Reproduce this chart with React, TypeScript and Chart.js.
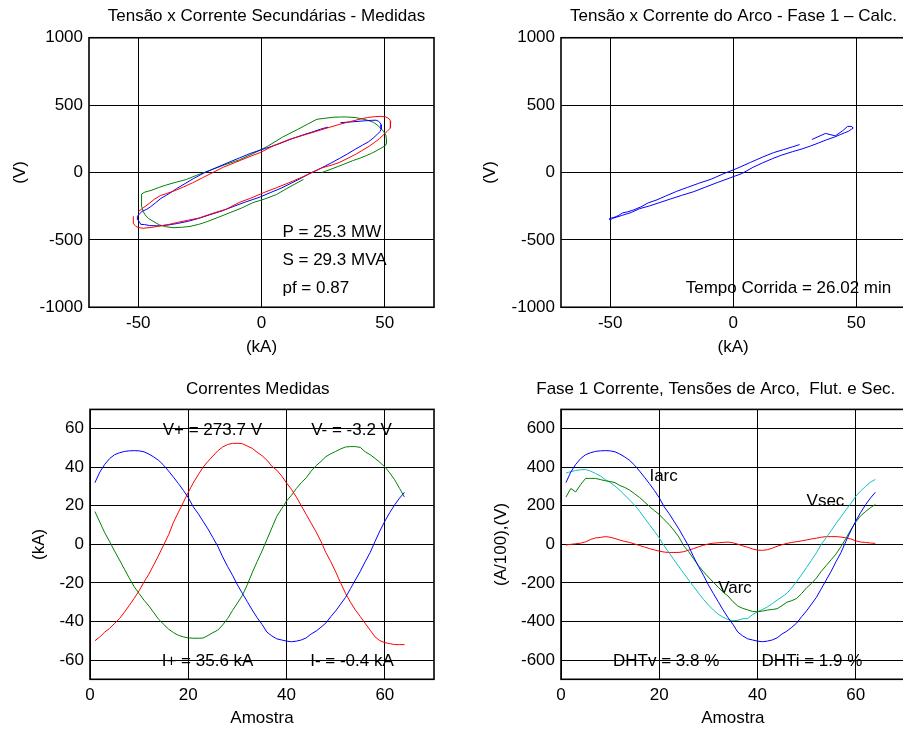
import React, { useEffect, useRef } from "react";
import { Chart, registerables } from "chart.js";

Chart.register(...registerables);

const FONT_FAMILY = '"Liberation Sans", Arial, Helvetica, sans-serif';
const FONT_SIZE = 17;

// ---------------- data ----------------
const samples = [
  1, 2, 3, 4, 5, 6, 7, 8, 9, 10, 11, 12, 13, 14, 15, 16, 17, 18, 19, 20, 21, 22, 23, 24, 25, 26, 27, 28, 29, 30, 31, 32,
  33, 34, 35, 36, 37, 38, 39, 40, 41, 42, 43, 44, 45, 46, 47, 48, 49, 50, 51, 52, 53, 54, 55, 56, 57, 58, 59, 60, 61, 62, 63, 64,
];

// Correntes medidas (kA)
const iPhase1 = [
  32, 37.5, 41.5, 44.5, 46.5, 47.5, 48.2, 48.5, 48.6, 48.5, 48, 46.8, 45.3, 43.5, 41, 38, 34.8, 31.5, 28, 24.2, 19.5, 16, 12, 8,
  3.5, -1, -6.5, -11.5, -16, -21, -25.4, -29.7, -34, -38, -41.5, -45.5, -47.5, -49, -49.6, -50.2, -50.5, -50.2, -49.6, -48.5,
  -46.5, -45, -43, -40.8, -37.5, -34.5, -31, -27.5, -23, -18.5, -14, -9, -4.3, 1.5, 7, 12, 16.5, 20.5, 24, 27,
];
const iPhase2 = [
  -50, -48, -45.5, -43.6, -41, -38.5, -35.2, -31.6, -28, -24, -19.5, -15.4, -10.5, -5.5, -0.3, 5, 11.5, 16.7, 21.8, 27, 31.8, 36,
  40, 43, 45.8, 48.5, 50.5, 51.8, 52.4, 52.4, 52.2, 51, 49.8, 47.8, 46, 43.7, 40.5, 38.5, 35.5, 31.8, 28.5, 24.5, 20, 15.5, 11,
  6.5, 1.5, -4.3, -9, -14.3, -20, -25.4, -30, -34, -37.5, -41, -44.5, -48, -50, -51, -51.5, -52, -52, -52,
];
const iPhase3 = [
  17, 11.5, 6, 1.4, -3.5, -8.1, -12.8, -17.6, -22, -25.5, -29, -32, -35.5, -39, -41.5, -44, -45.8, -47.2, -48, -48.5, -48.7,
  -48.7, -48.6, -47.3, -45.8, -44.5, -41.8, -38.5, -34.3, -30.5, -26.5, -21, -14.8, -9, -3.5, 2.5, 8.5, 14.5, 18.5, 22.5, 25.5,
  29, 32, 34.5, 38, 40.8, 43, 45.5, 47, 48.2, 49.5, 50.5, 50.7, 50.7, 50.3, 48, 46.5, 44.6, 42.5, 40.2, 37, 33.5, 29, 24.5,
];

// Tensões secundárias (V)
const vSec1 = [
  370, 377, 383, 387, 388, 380, 368, 355, 336, 321, 302, 280, 255, 229, 203, 172, 137, 103, 68, 33, -8, -43, -80, -116, -150,
  -185, -219, -253, -285, -314, -340, -362, -378, -390, -396, -394, -386, -385, -365, -350, -338, -325, -308, -289, -272, -254,
  -225, -192, -157, -120, -82, -44, 0, 35, 70, 108, 143, 178, 212, 248, 277, 300, 322, 337,
];
const vSec2 = [
  -290, -262, -229, -200, -171, -156, -135, -107, -77, -40, 2, 40, 76, 113, 150, 200, 247, 275, 303, 332, 358, 378, 396, 408,
  414, 417, 412, 398, 380, 355, 330, 305, 285, 250, 225, 195, 160, 138, 110, 76, 55, 34, -5, -42, -77, -110, -145, -190, -222,
  -272, -304, -338, -355, -370, -385, -396, -407, -414, -408, -400, -390, -375, -350, -325,
];
const vSec3 = [
  -52, -106, -164, -196, -224, -264, -298, -333, -364, -385, -400, -406, -410, -402, -388, -362, -342, -315, -290, -255, -220,
  -185, -160, -145, -138, -131, -112, -92, -70, -52, -22, 15, 58, 94, 140, 195, 262, 318, 357, 395, 402, 410, 412, 412, 408, 398,
  388, 372, 352, 331, 305, 275, 245, 215, 200, 175, 160, 142, 125, 108, 88, 62, 30, 0,
];

// Fase 1: corrente de arco (A/100), tensão de arco (V), flutuação (V)
const iArc = [
  320, 375, 415, 445, 465, 475, 482, 485, 486, 485, 480, 468, 453, 435, 410, 380, 348, 315, 280, 242, 195, 160, 120, 80, 35, -10,
  -65, -115, -160, -210, -254, -297, -340, -380, -415, -455, -475, -490, -496, -502, -505, -502, -496, -485, -465, -450, -430,
  -408, -375, -345, -310, -275, -230, -185, -140, -90, -43, 15, 70, 120, 165, 205, 240, 270,
];
const vArc = [
  245, 290, 272, 310, 342, 342, 342, 336, 330, 326, 320, 305, 295, 281, 262, 243, 220, 197, 175, 155, 128, 103, 72, 38, -8, -38,
  -75, -110, -142, -170, -196, -222, -248, -268, -297, -320, -332, -340, -348, -350, -346, -341, -338, -334, -318, -300, -292,
  -280, -255, -225, -203, -175, -140, -110, -80, -50, -12, 30, 75, 115, 148, 170, 190, 207,
];
const vFlut = [
  -3, 0, 3, 6, 13, 25, 33, 36, 40, 37, 30, 22, 15, 10, 2, -6, -14, -22, -29, -35, -40, -42, -42, -42, -38, -30, -22, -13, -5, 2,
  6, 8, 10, 12, 8, 1, -8, -15, -24, -30, -31, -28, -20, -10, -2, 5, 10, 14, 18, 23, 28, 32, 37, 40, 40, 40, 38, 34, 28, 18, 12,
  10, 7, 5,
];

// tick labels
const loopITicks = [-50, 0, 50];
const loopVTicks = [-1000, -500, 0, 500, 1000];
const sampleTicks = [0, 20, 40, 60];
const currentTicks = [-60, -40, -20, 0, 20, 40, 60];
const arcTicks = [-600, -400, -200, 0, 200, 400, 600];

// ---------------- helpers ----------------
const BLUE = "#0000ff";
const RED = "#ff0000";
const GREEN = "#008000";
const CYAN = "#10c0c0";

const pairs = (xs: number[], ys: number[]) => xs.map((x, i) => ({ x, y: ys[i] }));

type Note = { x: number; y: number; text: string };

interface PanelSpec {
  key: string;
  left: number;
  top: number;
  width: number;
  height: number;
  areaTop: number;
  yWidth: number;
  xHeight: number;
  padRight: number;
  title: string;
  titleX: number;
  titleY: number;
  xRange: [number, number];
  yRange: [number, number];
  xTicks: number[];
  yTicks: number[];
  xTitle: string;
  yTitle: string;
  xTitlePad: number;
  yTitlePad: number;
  datasets: { data: { x: number; y: number }[]; color: string }[];
  notes: Note[];
}

const framePlugin = {
  id: "frame",
  afterDatasetsDraw(chart: any) {
    const { ctx, chartArea: a } = chart;
    ctx.save();
    ctx.strokeStyle = "#000";
    ctx.lineWidth = 1.6;
    ctx.strokeRect(a.left, a.top, a.right - a.left, a.bottom - a.top);
    ctx.restore();
  },
};

function makeTextPlugin(spec: PanelSpec) {
  return {
    id: "panelText",
    beforeDatasetsDraw(chart: any) {
      const { ctx } = chart;
      const xs = chart.scales.x;
      const ys = chart.scales.y;
      ctx.save();
      ctx.font = `${FONT_SIZE}px ${FONT_FAMILY}`;
      ctx.fillStyle = "#000";
      ctx.textBaseline = "middle";
      ctx.textAlign = "center";
      ctx.fillText(spec.title, spec.titleX, spec.titleY);
      ctx.textAlign = "left";
      spec.notes.forEach((n) => ctx.fillText(n.text, xs.getPixelForValue(n.x), ys.getPixelForValue(n.y)));
      ctx.restore();
    },
  };
}

function buildConfig(spec: PanelSpec): any {
  const font = { family: FONT_FAMILY, size: FONT_SIZE };
  return {
    type: "scatter",
    data: {
      datasets: spec.datasets.map((d) => ({
        data: d.data,
        borderColor: d.color,
        backgroundColor: d.color,
        showLine: true,
        pointRadius: 0,
        pointHoverRadius: 0,
        borderWidth: 1,
        tension: 0,
        fill: false,
      })),
    },
    options: {
      responsive: false,
      animation: false,
      devicePixelRatio: 1,
      events: [],
      layout: { padding: { top: spec.areaTop, right: spec.padRight, left: 0, bottom: 0 } },
      plugins: { legend: { display: false }, tooltip: { enabled: false }, title: { display: false } },
      scales: {
        x: {
          type: "linear",
          position: "bottom",
          min: spec.xRange[0],
          max: spec.xRange[1],
          afterBuildTicks: (s: any) => {
            s.ticks = spec.xTicks.map((v) => ({ value: v }));
          },
          afterFit: (s: any) => {
            s.height = spec.xHeight;
          },
          grid: { color: "#000", lineWidth: 1, drawTicks: false },
          border: { display: false },
          ticks: {
            color: "#000",
            font,
            padding: 5.7,
            maxRotation: 0,
            minRotation: 0,
            autoSkip: false,
            callback: (v: any) => String(v),
          },
          title: {
            display: true,
            text: spec.xTitle,
            color: "#000",
            font,
            padding: { top: 0, bottom: spec.xTitlePad },
          },
        },
        y: {
          type: "linear",
          position: "left",
          min: spec.yRange[0],
          max: spec.yRange[1],
          afterBuildTicks: (s: any) => {
            s.ticks = spec.yTicks.map((v) => ({ value: v }));
          },
          afterFit: (s: any) => {
            s.width = spec.yWidth;
          },
          grid: { color: "#000", lineWidth: 1, drawTicks: false },
          border: { display: false },
          ticks: {
            color: "#000",
            font,
            padding: 6,
            autoSkip: false,
            callback: (v: any) => String(v),
          },
          title: {
            display: true,
            text: spec.yTitle,
            color: "#000",
            font,
            padding: { top: spec.yTitlePad, bottom: 0 },
          },
        },
      },
    },
    plugins: [framePlugin, makeTextPlugin(spec)],
  };
}

const panels: PanelSpec[] = [
  {
    key: "tl",
    left: 0,
    top: 0,
    width: 451,
    height: 365,
    areaTop: 37.75,
    yWidth: 89,
    xHeight: 57.75,
    padRight: 17,
    title: "Tensão x Corrente Secundárias - Medidas",
    titleX: 266.5,
    titleY: 16.5,
    xRange: [-70, 70],
    yRange: [-1000, 1000],
    xTicks: loopITicks,
    yTicks: loopVTicks,
    xTitle: "(kA)",
    yTitle: "(V)",
    xTitlePad: 7.8,
    yTitlePad: 9.8,
    datasets: [
      { data: pairs(iPhase2, vSec2), color: RED },
      { data: pairs(iPhase1, vSec1), color: BLUE },
      { data: pairs(iPhase3, vSec3), color: GREEN },
    ],
    notes: [
      { x: 8.5, y: -445, text: "P = 25.3 MW" },
      { x: 8.5, y: -652, text: "S = 29.3 MVA" },
      { x: 8.5, y: -860, text: "pf = 0.87" },
    ],
  },
  {
    key: "tr",
    left: 451,
    top: 0,
    width: 460,
    height: 365,
    areaTop: 37.75,
    yWidth: 110,
    xHeight: 57.75,
    padRight: 5.6,
    title: "Tensão x Corrente do Arco - Fase 1 – Calc.",
    titleX: 282.5,
    titleY: 16.5,
    xRange: [-70, 70],
    yRange: [-1000, 1000],
    xTicks: loopITicks,
    yTicks: loopVTicks,
    xTitle: "(kA)",
    yTitle: "(V)",
    xTitlePad: 7.8,
    yTitlePad: 29.6,
    datasets: [{ data: pairs(iPhase1, vArc), color: BLUE }],
    notes: [{ x: -19.3, y: -860, text: "Tempo Corrida = 26.02 min" }],
  },
  {
    key: "bl",
    left: 0,
    top: 365,
    width: 451,
    height: 366,
    areaTop: 44.4,
    yWidth: 90,
    xHeight: 51.7,
    padRight: 17,
    title: "Correntes Medidas",
    titleX: 257.8,
    titleY: 24.1,
    xRange: [0, 70],
    yRange: [-70, 70],
    xTicks: sampleTicks,
    yTicks: currentTicks,
    xTitle: "Amostra",
    yTitle: "(kA)",
    xTitlePad: 2.8,
    yTitlePad: 28.8,
    datasets: [
      { data: pairs(samples, iPhase1), color: BLUE },
      { data: pairs(samples, iPhase2), color: RED },
      { data: pairs(samples, iPhase3), color: GREEN },
    ],
    notes: [
      { x: 14.8, y: 59.1, text: "V+ = 273.7 V" },
      { x: 45, y: 59.1, text: "V- = -3.2 V" },
      { x: 14.6, y: -60.9, text: "I+ = 35.6 kA" },
      { x: 44.8, y: -60.9, text: "I- = -0.4 kA" },
    ],
  },
  {
    key: "br",
    left: 451,
    top: 365,
    width: 460,
    height: 366,
    areaTop: 44.4,
    yWidth: 110,
    xHeight: 51.7,
    padRight: 6.2,
    title: "Fase 1 Corrente, Tensões de Arco,  Flut. e Sec.",
    titleX: 264.8,
    titleY: 24.1,
    xRange: [0, 70],
    yRange: [-700, 700],
    xTicks: sampleTicks,
    yTicks: arcTicks,
    xTitle: "Amostra",
    yTitle: "(A/100),(V)",
    xTitlePad: 2.8,
    yTitlePad: 40.1,
    datasets: [
      { data: pairs(samples, iArc), color: BLUE },
      { data: pairs(samples, vArc), color: GREEN },
      { data: pairs(samples, vSec1), color: CYAN },
      { data: pairs(samples, vFlut), color: RED },
    ],
    notes: [
      { x: 18, y: 353, text: "Iarc" },
      { x: 50, y: 221, text: "Vsec" },
      { x: 32, y: -228, text: "Varc" },
      { x: 10.6, y: -609, text: "DHTv = 3.8 %" },
      { x: 40.8, y: -609, text: "DHTi = 1.9 %" },
    ],
  },
];

function Panel({ spec }: { spec: PanelSpec }) {
  const ref = useRef<HTMLCanvasElement>(null);
  useEffect(() => {
    const canvas = ref.current;
    if (!canvas) return;
    const chart = new Chart(canvas, buildConfig(spec));
    return () => chart.destroy();
  }, [spec]);
  return (
    <canvas
      ref={ref}
      width={spec.width}
      height={spec.height}
      style={{ position: "absolute", left: spec.left, top: spec.top, width: spec.width, height: spec.height }}
    />
  );
}

export default function App() {
  Chart.defaults.font.family = FONT_FAMILY;
  Chart.defaults.font.size = FONT_SIZE;
  Chart.defaults.color = "#000";
  return (
    <div
      style={{
        position: "absolute",
        left: 0,
        top: 0,
        width: 903,
        height: 731,
        overflow: "hidden",
        background: "#fff",
      }}
    >
      {panels.map((p) => (
        <Panel key={p.key} spec={p} />
      ))}
    </div>
  );
}
